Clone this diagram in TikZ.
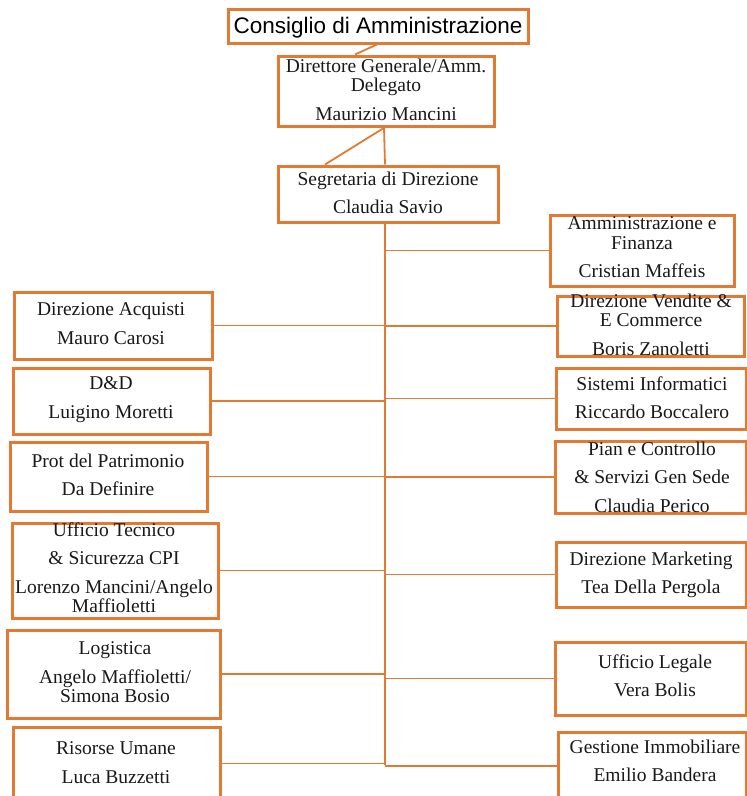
\documentclass[tikz,border=0pt]{standalone}
\usepackage{fontspec}
\setmainfont{Liberation Serif}
\newfontfamily\consfont{Liberation Sans}
\usetikzlibrary{calc}
\definecolor{orgline}{RGB}{226,122,52}
\begin{document}
\begin{tikzpicture}[x=1pt,y=-1pt,
  box/.style={draw=orgline, line width=3pt, rectangle, inner sep=0pt},
  lbl/.style={align=center, anchor=north, inner sep=0pt, text=black!90,
    font=\fontsize{19.5}{19.5}\selectfont, execute at begin node=\strut},
  conn/.style={draw=orgline, line width=1.8pt}]
\fill[white] (0,0) rectangle (747,796);
\useasboundingbox (0,0) rectangle (747,796);

% boxes
\node[box, minimum width=300pt, minimum height=34pt] (cons) at (378,26) {};
\node[box, minimum width=216pt, minimum height=70pt] (dir) at (386,91) {};
\node[box, minimum width=220pt, minimum height=56pt] (seg) at (388,194) {};

\node[box, minimum width=184pt, minimum height=71pt] (amm) at (642,250.5) {};
\node[box, minimum width=187pt, minimum height=60pt] (ven) at (650.5,326) {};
\node[box, minimum width=190pt, minimum height=61pt] (sis) at (651,398.5) {};
\node[box, minimum width=191pt, minimum height=72pt] (pian) at (650.5,477) {};
\node[box, minimum width=190pt, minimum height=65pt] (mkt) at (651,574.5) {};
\node[box, minimum width=191pt, minimum height=73pt] (leg) at (650.5,678.5) {};
\node[box, minimum width=188pt, minimum height=68pt] (ges) at (652,766) {};

\node[box, minimum width=198pt, minimum height=67pt] (acq) at (113,325.5) {};
\node[box, minimum width=197pt, minimum height=66pt] (dd) at (111.5,401) {};
\node[box, minimum width=197pt, minimum height=69pt] (prot) at (108.5,476.5) {};
\node[box, minimum width=206pt, minimum height=95pt] (uff) at (115,570.5) {};
\node[box, minimum width=213pt, minimum height=88pt] (log) at (113.5,674) {};
\node[box, minimum width=207pt, minimum height=73pt] (ris) at (116.5,763.5) {};

% connectors
\coordinate (tt) at ($(seg.south)+(-3,0)$);
\coordinate (tb) at (385,765);
\draw[conn] ($(cons.south)+(-1,0)$) -- ($(dir.north)+(-31,0)$);
\draw[conn] ($(dir.south)+(-2,0)$) -- ($(seg.north)+(-3,0)$);
\draw[conn] ($(dir.south)+(-3,1)$) -- ($(seg.north)+(-63,0)$);
\draw[conn] (tt) -- (tb);
\foreach \n in {amm,ven,sis,pian,mkt,leg,ges}
  \draw[conn] (\n.west) -- (\n.west -| tt);
\foreach \n in {acq,dd,prot,uff,log,ris}
  \draw[conn] (\n.east) -- (\n.east -| tt);

% texts
\node[anchor=base, inner sep=0pt, font=\consfont\fontsize{22.5}{24}\selectfont] (const) at (378,33) {Consiglio di Amministrazione};
\node[lbl] (dirt) at (386,58.4) {Direttore Generale/Amm.\\Delegato\\[9pt]Maurizio Mancini};
\node[lbl] (segt) at (388,171.4) {Segretaria di Direzione\\[9pt]Claudia Savio};

\node[lbl] (ammt) at (642,216.4) {Amministrazione e\\Finanza\\[9pt]Cristian Maffeis};
\node[lbl] (vent) at (651,293.4) {Direzione Vendite \&\\E Commerce\\[9pt]Boris Zanoletti};
\node[lbl] (sist) at (652,376.4) {Sistemi Informatici\\[9pt]Riccardo Boccalero};
\node[lbl] (piant) at (652,441.4) {Pian e Controllo\\[9pt]\& Servizi Gen Sede\\[9pt]Claudia Perico};
\node[lbl] (mktt) at (651,551.4) {Direzione Marketing\\[9pt]Tea Della Pergola};
\node[lbl] (legt) at (655,654.4) {Ufficio Legale\\[9pt]Vera Bolis};
\node[lbl] (gest) at (655,739.4) {Gestione Immobiliare\\[9pt]Emilio Bandera};

\node[lbl] (acqt) at (111,302.4) {Direzione Acquisti\\[9pt]Mauro Carosi};
\node[lbl] (ddt) at (111,376.4) {D\&D\\[9pt]Luigino Moretti};
\node[lbl] (prott) at (108,453.4) {Prot del Patrimonio\\[9pt]Da Definire};
\node[lbl] (ufft) at (114,522.4) {Ufficio Tecnico\\[9pt]\& Sicurezza CPI\\[9pt]Lorenzo Mancini/Angelo\\Maffioletti};
\node[lbl] (logt) at (115,641.4) {Logistica\\[9pt]Angelo Maffioletti/\\Simona Bosio};
\node[lbl] (rist) at (116,741.4) {Risorse Umane\\[9pt]Luca Buzzetti};
\end{tikzpicture}
\end{document}
